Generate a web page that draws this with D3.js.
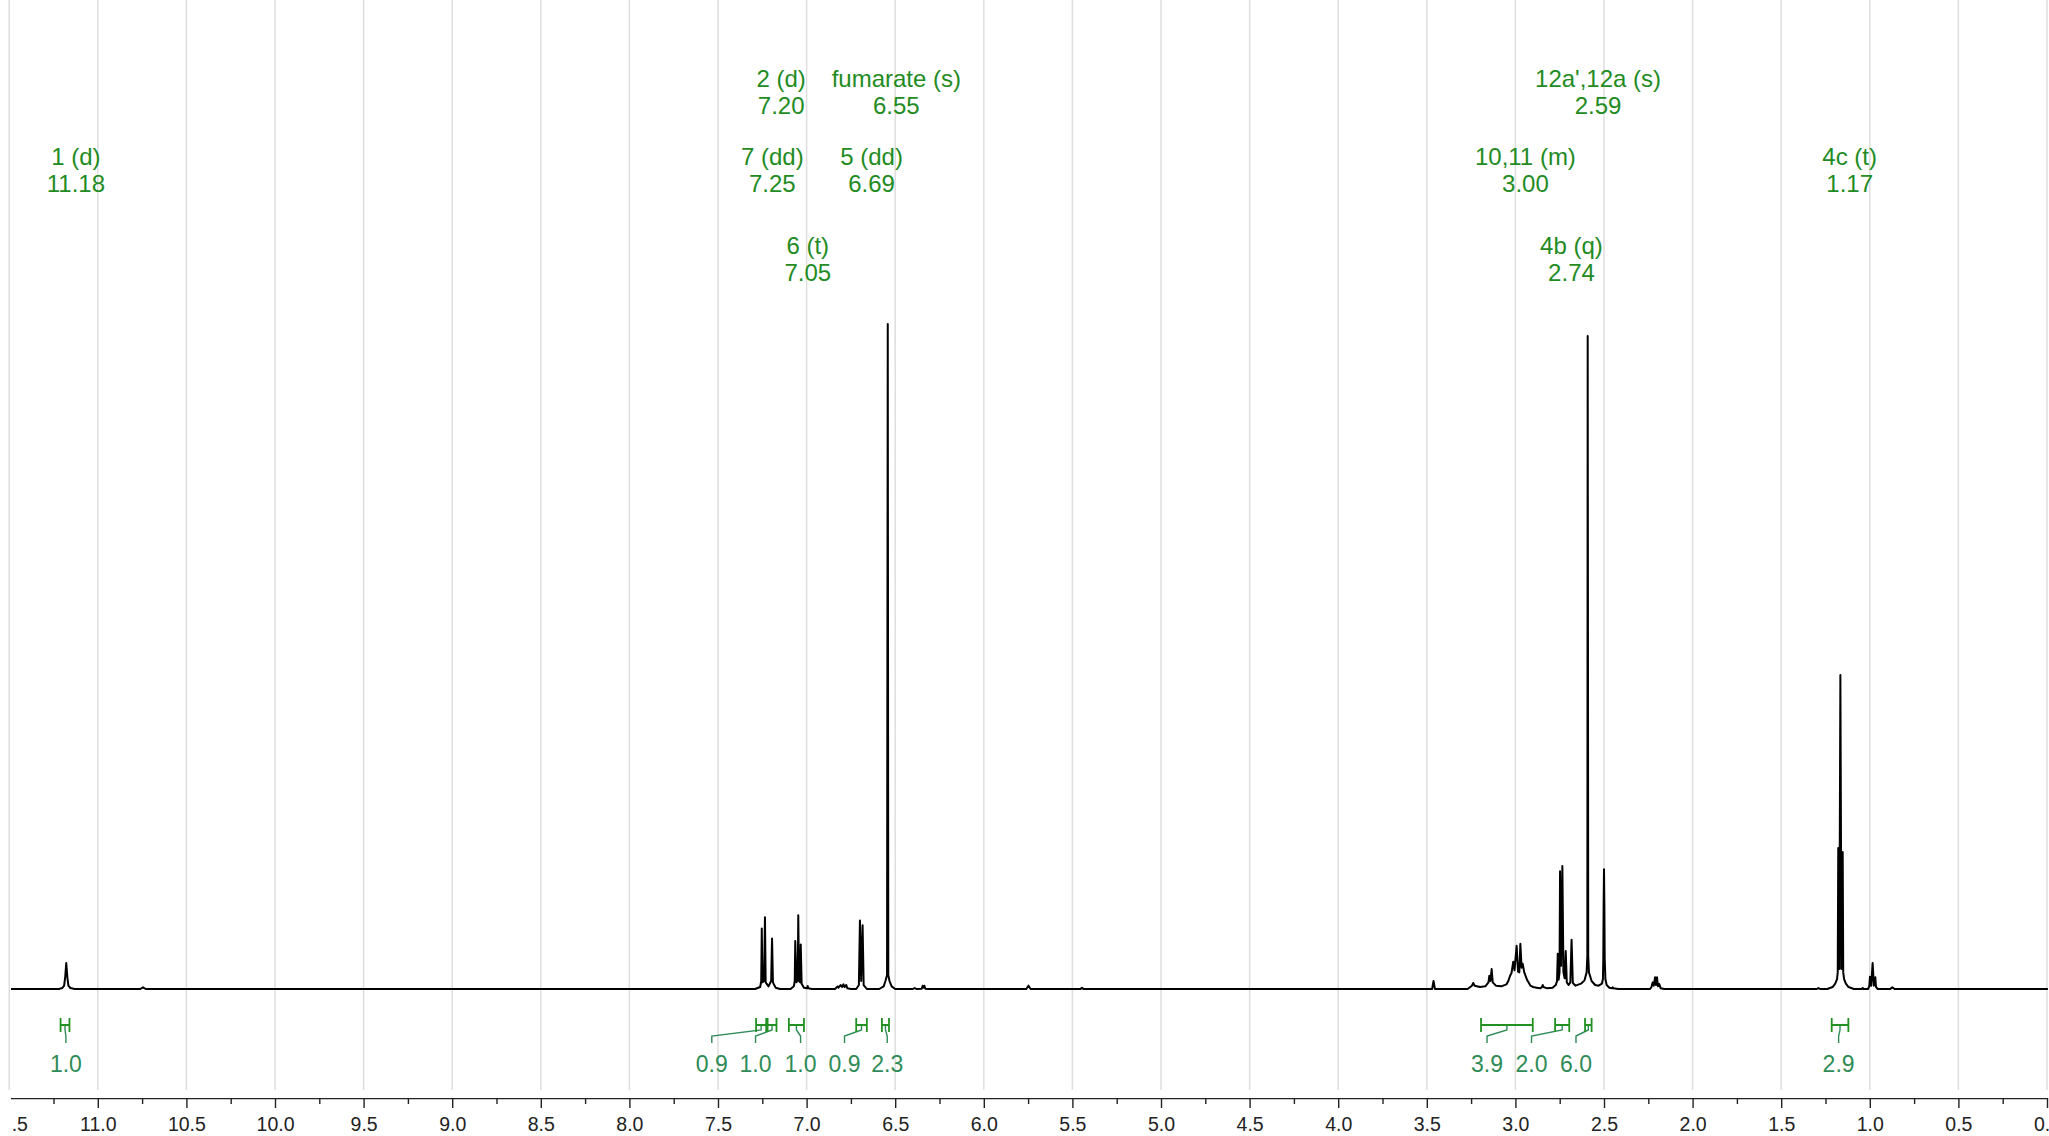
<!DOCTYPE html>
<html>
<head>
<meta charset="utf-8">
<script src="https://cdn.jsdelivr.net/npm/d3@7"></script>
<style>
  body { margin: 0; background: #fff; }
  svg { display: block; font-family: "Liberation Sans", Arial, sans-serif; }
</style>
</head>
<body>
<div id="chart"></div>
<script>
// 1H NMR trace: [shift ppm, intensity] (fumarate singlet = 100)
const spectrum = [
  [11.49, 0], [11.22, 0], [11.20, 0.15], [11.19, 0.5], [11.184, 1.8], [11.178, 3.9], [11.172, 1.8], [11.166, 0.5], [11.155, 0.15], [11.13, 0],
  [10.76, 0], [10.745, 0.25], [10.73, 0],
  [7.29, 0], [7.262, 0.3], [7.256, 1.2], [7.253, 9.1], [7.249, 1.0], [7.240, 1.2], [7.235, 10.8], [7.231, 1.0], [7.215, 0.4], [7.200, 1.2], [7.195, 7.6], [7.190, 1.0], [7.175, 0.2], [7.15, 0],
  [7.09, 0], [7.072, 0.4], [7.067, 1.2], [7.064, 7.2], [7.057, 1.0], [7.050, 1.4], [7.047, 11.1], [7.043, 1.2], [7.036, 1.0], [7.033, 6.7], [7.028, 0.8], [7.015, 0.2], [6.998, 0.1], [6.994, 0.45], [6.990, 0.1], [6.97, 0],
  [6.84, 0], [6.825, 0.4], [6.820, 0.2], [6.808, 0.6], [6.800, 0.3], [6.792, 0.7], [6.786, 0.3], [6.776, 0.6], [6.770, 0.1], [6.75, 0],
  [6.72, 0], [6.705, 0.6], [6.699, 10.3], [6.692, 1.2], [6.684, 9.6], [6.678, 0.6], [6.66, 0],
  [6.59, 0], [6.565, 0.4], [6.555, 1.2], [6.546, 2.1], [6.542, 100], [6.539, 2.1], [6.532, 1.2], [6.52, 0.4], [6.50, 0],
  [6.40, 0], [6.39, 0.15], [6.38, 0], [6.35, 0.05], [6.345, 0.5], [6.34, 0.2], [6.335, 0.5], [6.33, 0.05], [6.31, 0],
  [5.76, 0], [5.748, 0.5], [5.736, 0],
  [5.455, 0], [5.446, 0.2], [5.437, 0],
  [3.47, 0], [3.462, 1.2], [3.454, 0],
  [3.27, 0], [3.245, 0.5], [3.238, 0.9], [3.23, 0.5], [3.20, 0.3], [3.17, 0.4], [3.152, 1.0], [3.147, 2.0], [3.141, 1.2], [3.134, 3.0], [3.128, 1.0], [3.11, 0.5], [3.08, 0.4],
  [3.05, 0.7], [3.04, 1.2], [3.030, 2.0], [3.022, 2.4], [3.012, 4.1], [3.005, 2.8], [2.993, 6.5], [2.985, 2.6], [2.978, 2.5], [2.972, 6.8], [2.965, 3.2], [2.959, 3.8], [2.950, 2.5], [2.940, 1.8], [2.933, 1.3], [2.927, 1.05], [2.915, 0.5], [2.90, 0.3], [2.88, 0.2], [2.86, 0.1], [2.850, 0.3], [2.846, 0.6], [2.842, 0.3], [2.82, 0.1], [2.79, 0.2],
  [2.772, 0.6], [2.765, 1.2], [2.761, 5.3], [2.756, 1.4], [2.751, 2.5], [2.748, 17.7], [2.742, 3.5], [2.735, 18.5], [2.729, 2.5], [2.722, 1.6], [2.716, 5.7], [2.710, 1.0], [2.700, 0.6], [2.690, 1.0], [2.683, 7.4], [2.676, 0.9], [2.66, 0.5], [2.63, 0.8],
  [2.61, 1.3], [2.598, 2.5], [2.594, 5], [2.592, 98.2], [2.589, 5], [2.585, 2.5], [2.57, 1.2], [2.55, 0.6], [2.53, 0.5],
  [2.512, 0.8], [2.506, 1.5], [2.504, 4.5], [2.502, 13], [2.500, 18], [2.498, 13], [2.496, 4.5], [2.492, 1.5], [2.485, 0.6], [2.47, 0.2], [2.455, 0.1], [2.451, 0.25], [2.447, 0.1], [2.42, 0],
  [2.24, 0], [2.232, 0.3], [2.225, 1.0], [2.219, 0.5], [2.212, 1.75], [2.206, 0.6], [2.201, 1.75], [2.195, 0.4], [2.188, 0.75], [2.18, 0.1], [2.16, 0],
  [1.30, 0], [1.29, 0.15], [1.28, 0],
  [1.24, 0], [1.21, 0.3], [1.195, 0.8], [1.185, 1.5], [1.181, 2.5], [1.178, 21.2], [1.172, 3], [1.166, 47.2], [1.160, 3], [1.153, 20.6], [1.150, 2.5], [1.145, 1.5], [1.135, 0.8], [1.12, 0.3], [1.09, 0],
  [1.045, 0], [1.04, 0.15], [1.035, 0],
  [1.01, 0], [1.003, 0.4], [0.999, 1.85], [0.992, 0.5], [0.984, 3.9], [0.977, 0.5], [0.969, 1.76], [0.965, 0.3], [0.955, 0],
  [0.885, 0], [0.873, 0.25], [0.86, 0],
  [-0.005, 0]
];

// peak assignments
const peakNames = ["1 (d)", "7 (dd)", "2 (d)", "6 (t)", "5 (dd)", "fumarate (s)", "10,11 (m)", "4b (q)", "12a',12a (s)", "4c (t)"];
const peakShifts = [11.18, 7.25, 7.20, 7.05, 6.69, 6.55, 3.00, 2.74, 2.59, 1.17];

// integrals
const integralFrom = [11.21, 7.285, 7.220, 7.100, 6.720, 6.575, 3.194, 2.776, 2.607, 1.215];
const integralTo = [11.16, 7.228, 7.170, 7.015, 6.660, 6.535, 2.902, 2.696, 2.570, 1.121];
const integralValues = ["1.0", "0.9", "1.0", "1.0", "0.9", "2.3", "3.9", "2.0", "6.0", "2.9"];

// layout only: which text row each assignment sits in, where each integral label goes
const peakRow = [1, 1, 0, 2, 1, 0, 1, 2, 0, 1];
const integralLabelPpm = [11.18, 7.535, 7.288, 7.034, 6.786, 6.545, 3.160, 2.909, 2.658, 1.176];

const majorTicks = d3.range(23, -1, -1).map(i => i * 0.5);
const minorTicks = d3.range(45, 0, -2).map(i => i * 0.25);

const width = 2049, height = 1136;
const baseY = 989, axisY = 1098;
const green = "#229122", seaGreen = "#2e8b57";

const svg = d3.select("#chart").append("svg")
  .attr("width", width)
  .attr("height", height);

const x = d3.scaleLinear().domain([11.5, 0]).range([9.2, 2047]);
const y = d3.scaleLinear().domain([0, 100]).range([baseY, 324]);

// grid
svg.append("g")
  .selectAll("line")
  .data(majorTicks)
  .enter().append("line")
  .attr("x1", d => x(d)).attr("x2", d => x(d))
  .attr("y1", 0).attr("y2", 1090)
  .attr("stroke", "#dedede")
  .attr("stroke-width", 1.5);

// spectrum
const line = d3.line()
  .x(d => x(d[0]))
  .y(d => y(d[1]));

svg.append("path")
  .datum(spectrum)
  .attr("d", line)
  .attr("fill", "none")
  .attr("stroke", "#000")
  .attr("stroke-width", 2)
  .attr("stroke-linejoin", "round");

// axis
svg.append("clipPath").attr("id", "axclip")
  .append("rect").attr("x", 11).attr("y", 0).attr("width", width).attr("height", height);

const ax = svg.append("g")
  .attr("transform", "translate(0," + axisY + ")")
  .attr("clip-path", "url(#axclip)")
  .call(d3.axisBottom(x).tickValues(majorTicks).tickSize(10).tickSizeOuter(0).tickPadding(9).tickFormat(d3.format(".1f")));
ax.select(".domain").attr("stroke", "#222").attr("stroke-width", 1.6);
ax.selectAll(".tick line").attr("stroke", "#222").attr("stroke-width", 1.4);
ax.selectAll("text").attr("font-size", 19.5).attr("fill", "#222")
  .attr("font-family", "'Liberation Sans', Arial, sans-serif");

const minor = svg.append("g")
  .attr("transform", "translate(0," + axisY + ")")
  .call(d3.axisBottom(x).tickValues(minorTicks).tickSize(6).tickSizeOuter(0).tickFormat(""));
minor.select(".domain").remove();
minor.selectAll(".tick line").attr("stroke", "#222").attr("stroke-width", 1.4);

// peak assignment labels
const rowBase = [87, 165, 254];
const labels = svg.append("g")
  .attr("fill", "#228b22")
  .attr("font-size", 24)
  .attr("text-anchor", "middle");

peakNames.forEach((name, i) => {
  const t = labels.append("text")
    .attr("x", x(peakShifts[i]) + 10)
    .attr("y", rowBase[peakRow[i]]);
  t.append("tspan").text(name);
  t.append("tspan")
    .attr("x", x(peakShifts[i]) + 10)
    .attr("dy", 27)
    .text(peakShifts[i].toFixed(2));
});

// integral brackets
const integ = svg.append("g");
integralValues.forEach((v, i) => {
  const x1 = x(integralFrom[i]), x2 = x(integralTo[i]);
  const cx = (x1 + x2) / 2, lx = x(integralLabelPpm[i]);
  integ.append("path")
    .attr("d", `M${cx},1025V1030L${lx},1036V1043`)
    .attr("fill", "none")
    .attr("stroke", seaGreen)
    .attr("stroke-width", 1.4);
  integ.append("path")
    .attr("d", `M${x1},1018V1032M${x1},1025H${x2}M${x2},1018V1032`)
    .attr("fill", "none")
    .attr("stroke", green)
    .attr("stroke-width", 1.8);
  integ.append("text")
    .attr("x", lx)
    .attr("y", 1072)
    .attr("text-anchor", "middle")
    .attr("font-size", 23)
    .attr("fill", seaGreen)
    .text(v);
});
</script>
</body>
</html>
